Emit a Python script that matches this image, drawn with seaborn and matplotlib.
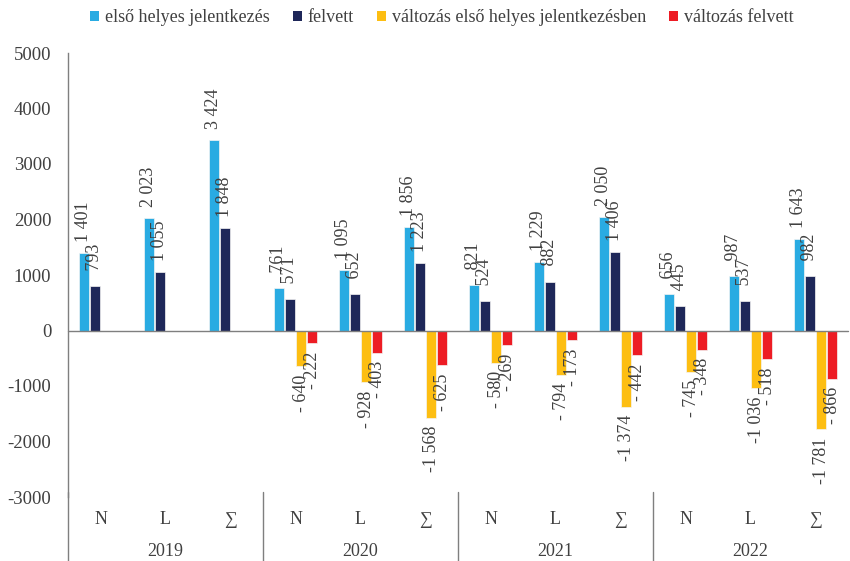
import numpy as np
import pandas as pd
import matplotlib
matplotlib.use("Agg")
import matplotlib.pyplot as plt
import seaborn as sns
from matplotlib.patches import Patch
from matplotlib.lines import Line2D

# ---- data ----
years = ["2019", "2020", "2021", "2022"]
subcats = ["N", "L", "∑"]
series_names = ["első helyes jelentkezés", "felvett",
                "változás első helyes jelentkezésben", "változás felvett"]
elso_helyes = [1401, 2023, 3424, 761, 1095, 1856, 821, 1229, 2050, 656, 987, 1643]
felvett = [793, 1055, 1848, 571, 652, 1223, 524, 882, 1406, 445, 537, 982]
valt_elso = [np.nan, np.nan, np.nan, -640, -928, -1568, -580, -794, -1374, -745, -1036, -1781]
valt_felvett = [np.nan, np.nan, np.nan, -222, -403, -625, -269, -173, -442, -348, -518, -866]
colors = ["#29ABE2", "#1E2759", "#FDBE12", "#ED1C24"]

cat_keys = [f"{y}|{s}" for y in years for s in subcats]
rows = []
for name, vals in zip(series_names, [elso_helyes, felvett, valt_elso, valt_felvett]):
    for k, v in zip(cat_keys, vals):
        rows.append({"cat": k, "series": name, "value": v})
df = pd.DataFrame(rows)

sns.set_theme(style="white")
plt.rcParams["font.family"] = ["Liberation Serif", "DejaVu Serif"]
plt.rcParams["axes.unicode_minus"] = False
TXT = "#404040"

fig = plt.figure(figsize=(8.5, 5.61), dpi=100)
ax = fig.add_axes([68 / 850, 64 / 561, 780 / 850, 444 / 561])

sns.barplot(data=df.dropna(), x="cat", y="value", hue="series", order=cat_keys,
            hue_order=series_names, palette=colors, saturation=1, width=0.68, gap=0.05,
            edgecolor="#f4f4f4", linewidth=0.5, errorbar=None, ax=ax, legend=False)

ax.set_ylim(-3000, 5000)
ax.set_xlim(-0.5, len(cat_keys) - 0.5)
ax.set_yticks(range(-3000, 5001, 1000))
ax.tick_params(axis="y", length=0, pad=12, labelsize=13.5, labelcolor=TXT)
ax.set_xticks([])
ax.set_xlabel("")
ax.set_ylabel("")
for s in ["top", "right", "bottom"]:
    ax.spines[s].set_visible(False)
ax.spines["left"].set_color("#7f7f7f")
ax.spines["left"].set_linewidth(1.0)
ax.axhline(0, color="#7f7f7f", lw=1.0, zorder=3, clip_on=False)


def fmt(v):
    v = int(round(v))
    if v >= 0:
        s = f"{v:,}".replace(",", " ")
        return s if v >= 1000 else " " + s
    a = -v
    if a >= 1000:
        return "-" + f"{a:,}".replace(",", " ")
    return "- " + str(a)


for cont in ax.containers:
    for p in cont.patches:
        h = p.get_height()
        if h is None or np.isnan(h):
            continue
        xc = p.get_x() + p.get_width() / 2
        if h >= 0:
            ax.annotate(fmt(h), (xc, h), xytext=(0, 8), textcoords="offset points",
                        rotation=90, ha="center", va="bottom", fontsize=13, color=TXT)
        else:
            ax.annotate(fmt(h), (xc, h), xytext=(0, -6), textcoords="offset points",
                        rotation=90, ha="center", va="top", fontsize=13, color=TXT)

# category axis
tr = ax.get_xaxis_transform()
for i, k in enumerate(cat_keys):
    ax.text(i, -0.05, k.split("|")[1], transform=tr, ha="center", va="center",
            fontsize=13, color=TXT, clip_on=False)
for j, y in enumerate(years):
    ax.text(3 * j + 1, -0.122, y, transform=tr, ha="center", va="center",
            fontsize=13, color=TXT, clip_on=False)
for xb in [-0.5, 2.5, 5.5, 8.5]:
    ax.add_line(Line2D([xb, xb], [0.012, -0.16], transform=tr, color="#7f7f7f",
                       lw=1.0, clip_on=False))

handles = [Patch(facecolor=c, edgecolor="none") for c in colors]
fig.legend(handles, series_names, loc="center", bbox_to_anchor=(0.52, 0.968), ncol=4,
           frameon=False, fontsize=13, handlelength=0.5, handleheight=0.5,
           handletextpad=0.3, columnspacing=1.3, labelcolor=TXT)

fig.savefig("out.png", dpi=100)
